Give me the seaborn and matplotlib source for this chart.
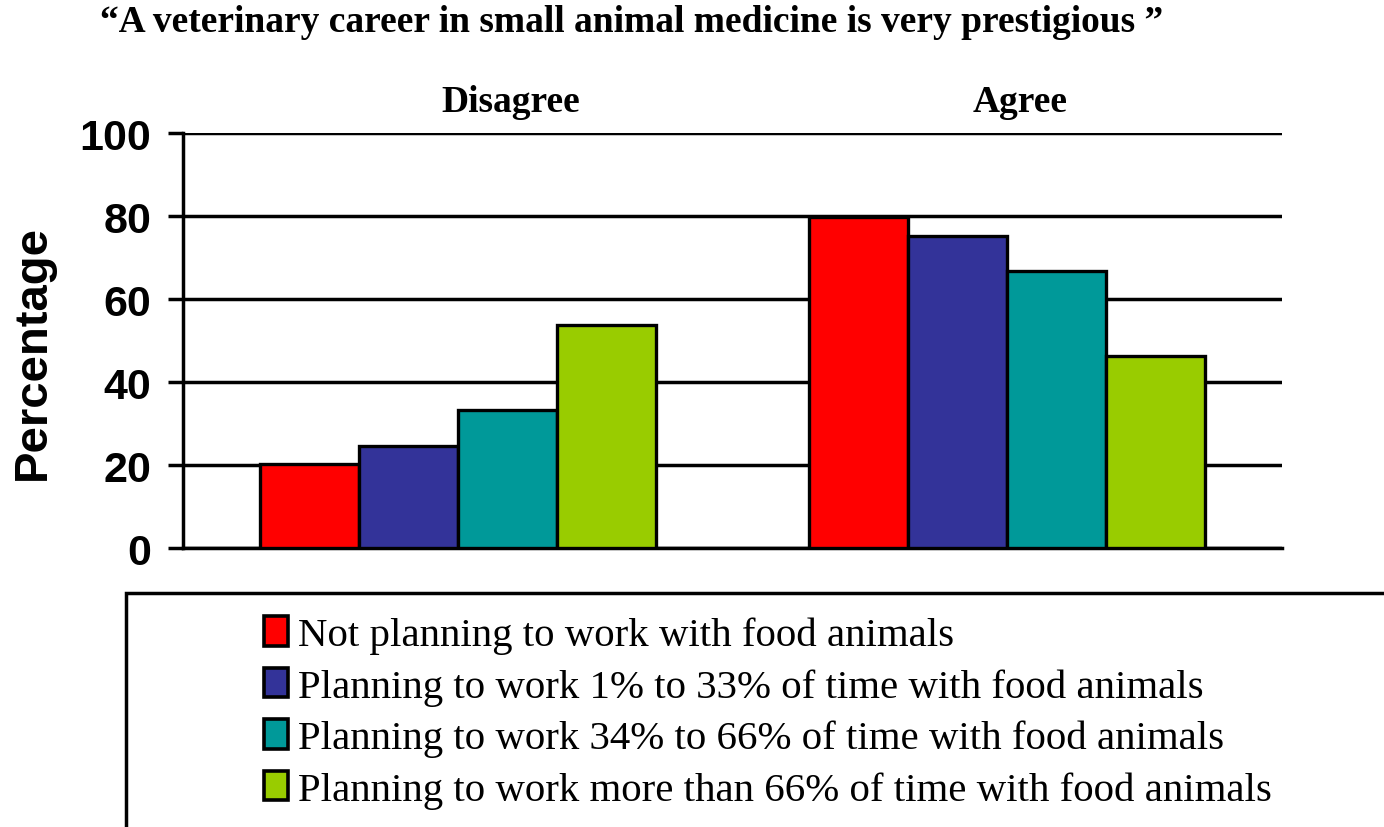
import matplotlib
matplotlib.use("Agg")
import matplotlib.pyplot as plt
from matplotlib.patches import Rectangle
import seaborn as sns
import pandas as pd

# Survey responses and planned food-animal work groups
responses = ["Disagree", "Agree"]
groups = [
    "Not planning to work with food animals",
    "Planning to work 1% to 33% of time with food animals",
    "Planning to work 34% to 66% of time with food animals",
    "Planning to work more than 66% of time with food animals",
]
disagree_pct = [20.2, 24.7, 33.3, 53.7]
agree_pct = [79.8, 75.3, 66.7, 46.3]
colors = ["#FF0000", "#333399", "#009999", "#99CC00"]
yticks = [0, 20, 40, 60, 80, 100]

rows = []
for g, d, a in zip(groups, disagree_pct, agree_pct):
    rows.append({"response": responses[0], "group": g, "pct": d})
    rows.append({"response": responses[1], "group": g, "pct": a})
df = pd.DataFrame(rows)

sns.set_theme(style="white")
plt.rcParams.update({"text.color": "black", "axes.labelcolor": "black",
                     "xtick.color": "black", "ytick.color": "black"})
serif = ["Liberation Serif", "DejaVu Serif"]
sans = ["Liberation Sans", "DejaVu Sans"]

fig = plt.figure(figsize=(13.84, 8.28), dpi=100)
ax = fig.add_axes([183 / 1384, 1 - 549.3 / 828, 1099 / 1384, 415 / 828])

sns.barplot(
    data=df, x="response", y="pct", hue="group", order=responses,
    hue_order=groups, palette=colors, width=0.72, ax=ax,
    edgecolor="black", linewidth=2.4, saturation=1, zorder=3,
)

ax.set_ylim(0, 100)
ax.set_xlim(-0.5, 1.5)
ax.set_yticks(yticks)
ax.set_yticklabels([str(t) for t in yticks], fontsize=31, fontweight="bold",
                   family=sans, color="black")
ax.yaxis.grid(True, color="black", linewidth=2.5, zorder=0)
ax.set_axisbelow(True)
ax.tick_params(axis="y", direction="out", length=10.8, width=2.5,
               color="black", left=True, pad=12)
ax.set_xticks([])
ax.set_xlabel("")
ax.set_ylabel("Percentage", fontsize=34, fontweight="bold", family=sans,
              labelpad=17.5, color="black")
ax.yaxis.label.set_y(0.475)
for side in ["top", "right"]:
    ax.spines[side].set_visible(False)
for side in ["left", "bottom"]:
    ax.spines[side].set_linewidth(2.5)
    ax.spines[side].set_color("black")

# Response labels above each group
for xpos, lab in [(0.097, responses[0]), (1.023, responses[1])]:
    ax.text(xpos, 103.5, lab, ha="center", va="bottom", fontsize=27,
            fontweight="bold", family=serif, color="black")

fig.text(100 / 1384, 1 - 23 / 828,
         "\u201cA veterinary career in small animal medicine is very prestigious \u201d",
         ha="left", va="center", fontsize=27, fontweight="bold",
         family=serif, color="black")

handles, labels = ax.get_legend_handles_labels()
if ax.get_legend() is not None:
    ax.get_legend().remove()
for h in handles:
    h.set_edgecolor("black")
    h.set_linewidth(2.6)

fig.add_artist(Rectangle((126 / 1384, -0.2), 1.0, 1 - 594 / 828 + 0.2,
                         transform=fig.transFigure, fill=False,
                         edgecolor="black", linewidth=2.5))

fig.legend(handles, labels, loc="upper left",
           bbox_to_anchor=(264 / 1384, 1 - 617 / 828), frameon=False,
           prop={"family": serif, "size": 29.4}, handlelength=0.59,
           handleheight=0.74, handletextpad=0.25, labelspacing=0.33,
           borderpad=0, borderaxespad=0, labelcolor="black")

fig.savefig("out.png", dpi=100)
